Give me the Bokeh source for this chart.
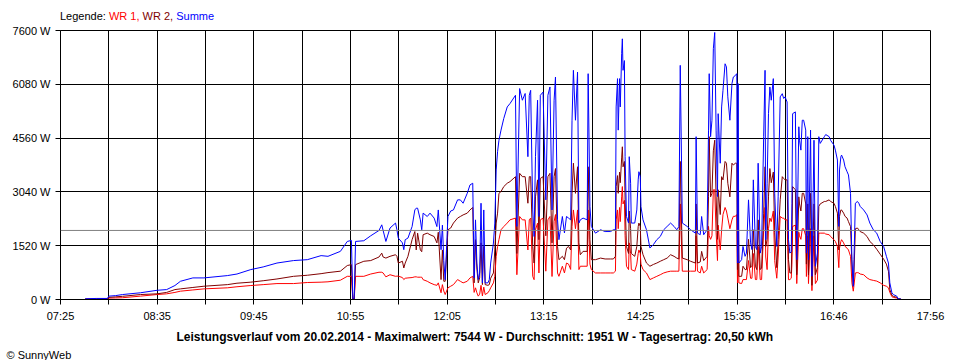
from bokeh.plotting import figure
from bokeh.models import FixedTicker, Span, ColumnDataSource, Title, Div
from bokeh.layouts import column
from bokeh.embed import file_html
from bokeh.resources import INLINE

# ---- data (time in minutes since midnight, power in W) ----
t_min = [
    462.5, 463, 471, 479, 480, 485, 490, 503, 515, 522,
    528, 532, 541, 549, 566, 573, 583, 592, 602, 614,
    624, 634, 639, 648, 653, 656, 657, 658, 659, 665,
    670, 676, 678, 679, 681, 684, 688, 689, 690, 693,
    694, 695, 697, 700, 702, 703, 704, 706, 707, 708,
    711, 713, 716, 718, 719, 721, 722, 723, 724, 726,
    728, 730, 733, 735, 737, 740, 742, 744, 745, 746,
    747, 748, 749, 750, 751, 752, 753, 755, 756, 757,
    759, 760, 761, 762, 763, 764.5, 766.5, 769, 771, 775,
    776, 778, 780, 782, 784, 785, 786, 787.5, 788.5, 789.5,
    791, 792, 793, 795, 797, 798.5, 800, 801.5, 803, 804,
    805.5, 806.5, 809, 810.5, 812, 813.5, 815, 816, 817, 818.5,
    820, 821, 822, 824, 827, 827.7, 829, 830, 833, 836.7,
    840, 844, 846, 847.5, 848, 849, 849.5, 850.5, 851, 852,
    852.5, 853, 854, 854.5, 855.5, 857, 857.5, 858.5, 859, 861.5,
    863, 864, 864.5, 865.5, 866, 867.5, 870, 872.5, 875, 877.5,
    880, 882.5, 885, 887.5, 890, 892, 893.5, 894.5, 896, 899.5,
    902, 905.5, 906, 907, 909, 910, 911.5, 914, 915, 915.5,
    916.5, 917.5, 918.5, 919.5, 920.5, 921.5, 922, 923.5, 924.5, 925.5,
    927, 928, 929, 930.5, 932, 933, 934.5, 935.5, 936, 936.5,
    937, 939, 940, 941.5, 942.5, 944, 945.5, 946.5, 947.5, 949,
    950, 951, 952.5, 953.5, 955, 956, 956.5, 957.5, 958.5, 959.5,
    960.5, 962, 963, 964.5, 965.5, 967, 968.5, 969.5, 970.5, 972,
    973, 974, 975, 975.5, 976, 978, 979, 980.5, 981, 982,
    983, 984, 985.5, 986, 987, 987.5, 989, 990, 991.5, 992.5,
    994, 995, 996, 999, 1000, 1002.5, 1003.5, 1006, 1007, 1008.5,
    1009.5, 1010, 1011, 1011.5, 1013, 1014, 1015.5, 1016.5, 1018, 1019,
    1020, 1020.5, 1021.5, 1023, 1024, 1025, 1027.5, 1030, 1032, 1034.5,
    1037, 1039.5, 1042, 1044, 1045.5, 1046.5, 1048, 1049, 1051.5, 1052.5,
    1054, 1055,
]
summe = [
    0, 20, 30, 30, 95, 110, 140, 190, 260, 280,
    395, 515, 610, 610, 675, 720, 845, 920, 1030, 1100,
    1125, 1240, 1220, 1360, 1640, 1670, 30, 30, 1640, 1660,
    1800, 1950, 2110, 1950, 1640, 2020, 2160, 1970, 1735, 1600,
    1407, 1690, 1735, 2060, 2530, 2580, 2580, 2250, 1970, 2440,
    2345, 2440, 2300, 2060, 2530, 1407, 2100, 1100, 560, 2345,
    2500, 2530, 2815, 2815, 2720, 3000, 3237, 3285, 610, 2250,
    1030, 563, 750, 2720, 470, 2530, 470, 470, 560, 1030,
    1595, 2160, 3660, 4175, 4500, 4785, 5115, 5440, 5535, 5770,
    2065, 5960, 5630, 5820, 4035, 5770, 5910, 2530, 1780, 4035,
    5630, 2345, 5770, 5860, 2815, 5770, 6005, 2530, 5630, 6285,
    2250, 1690, 2345, 1880, 2345, 2300, 2250, 5065, 6475, 5065,
    6425, 2160, 2250, 2300, 2250, 6380, 2625, 2065, 1875, 1970,
    1920, 1920, 1970, 1970, 5440, 6240, 4785, 6240, 5440, 6945,
    7365, 6475, 6750, 4035, 2345, 2160, 4035, 3285, 2160, 2160,
    2530, 3380, 3610, 3470, 2625, 2250, 1970, 1455, 1550, 1690,
    1780, 1970, 2065, 2160, 2065, 1970, 2060, 6615, 2160, 2065,
    1970, 1875, 4600, 1875, 1830, 2345, 1830, 1970, 4785, 6380,
    4600, 5065, 7085, 7544, 4785, 2910, 5250, 3850, 5440, 5910,
    6660, 6570, 5725, 5065, 6100, 6285, 6330, 6380, 1030, 6100,
    1030, 1125, 1500, 1220, 1310, 2815, 1600, 1410, 3380, 1500,
    1410, 3850, 1310, 1500, 4600, 6475, 1690, 3285, 5250, 6005,
    5630, 6240, 3000, 1500, 2900, 5725, 5815, 5680, 5725, 5580,
    1690, 1310, 1350, 2720, 5250, 5300, 1125, 4880, 4500, 4220,
    5065, 5065, 4785, 1310, 4600, 1125, 4785, 655, 4500, 940,
    1310, 4600, 4410, 4600, 4660, 4600, 4500, 4360, 4220, 3940,
    2065, 3660, 4035, 4080, 3940, 3750, 3610, 3520, 3000, 1125,
    375, 1125, 2720, 2770, 2720, 2630, 2530, 2390, 2160, 1970,
    1875, 1640, 1500, 1220, 1030, 470, 190, 140, 95, 20,
    20, 0,
]
wr2 = [
    0, 10, 15, 15, 60, 75, 90, 140, 160, 200,
    280, 300, 340, 375, 420, 460, 490, 530, 580, 655,
    685, 730, 760, 800, 960, 985, 15, 15, 985, 1080,
    1100, 1200, 1310, 1200, 1170, 1220, 1265, 1220, 1030, 1080,
    890, 1030, 1220, 1690, 1920, 1400, 1875, 1400, 1350, 1830,
    1875, 1830, 1780, 1600, 1900, 563, 1400, 515, 515, 1970,
    2020, 2160, 2300, 2345, 2390, 2440, 2530, 2600, 470, 1690,
    860, 470, 610, 1600, 420, 1500, 420, 400, 420, 600,
    750, 1400, 2160, 2440, 3000, 3050, 3190, 3285, 3330, 3470,
    1300, 3565, 3470, 3470, 2720, 3470, 3470, 1500, 1030, 2900,
    3380, 1690, 3420, 3470, 1800, 3470, 3565, 1600, 3470, 3700,
    1500, 1125, 1220, 1125, 1450, 1500, 1400, 3000, 3850, 3000,
    3750, 1600, 1265, 1360, 1360, 3750, 1690, 1125, 1125, 1170,
    1145, 1145, 1145, 1220, 3190, 3500, 3000, 3600, 3300, 4000,
    4315, 3750, 3900, 2815, 1500, 1300, 2500, 2000, 1300, 1220,
    1500, 2060, 2160, 2060, 1500, 1265, 1030, 940, 990, 1030,
    1080, 1125, 1170, 1265, 1220, 1170, 1145, 3900, 1170, 1125,
    1080, 1030, 2700, 1030, 1060, 1360, 1100, 1220, 2900, 4600,
    2900, 3000, 4200, 4500, 2900, 1700, 3100, 2400, 3470, 3380,
    3900, 3850, 3285, 2900, 3850, 3800, 3850, 3850, 845, 3600,
    655, 655, 940, 845, 845, 1700, 900, 940, 1970, 940,
    845, 2250, 845, 890, 2440, 3750, 1500, 1690, 2900, 3700,
    3300, 3600, 1900, 900, 1700, 2815, 3470, 3420, 3380, 3380,
    1125, 750, 750, 1600, 3190, 3100, 700, 2900, 2700, 2500,
    3000, 3000, 2700, 1000, 2700, 700, 3000, 400, 2700, 700,
    900, 2630, 2700, 2770, 2770, 2815, 2770, 2720, 2630, 2440,
    1400, 2350, 2530, 2530, 2440, 2350, 2300, 2200, 2060, 1000,
    375, 750, 2000, 2020, 1970, 1920, 1875, 1780, 1640, 1548,
    1420, 1280, 1140, 1000, 800, 280, 120, 90, 60, 15,
    15, 0,
]
wr1 = [
    0, 10, 15, 15, 40, 45, 50, 95, 140, 160,
    200, 235, 270, 300, 330, 360, 395, 420, 450, 450,
    480, 490, 500, 545, 655, 655, 0, 0, 655, 655,
    720, 770, 770, 750, 640, 700, 655, 660, 660, 620,
    563, 600, 610, 620, 640, 640, 630, 630, 630, 560,
    515, 470, 420, 400, 470, 190, 420, 240, 140, 330,
    375, 420, 563, 515, 470, 515, 610, 655, 200, 330,
    190, 95, 150, 400, 100, 350, 140, 190, 250, 330,
    470, 655, 1220, 1500, 1690, 1970, 2060, 2160, 2250, 2300,
    700, 2345, 2250, 2250, 1400, 2250, 2300, 655, 560, 1970,
    2160, 750, 2250, 2300, 800, 2250, 2345, 650, 2200, 2400,
    750, 655, 940, 750, 1030, 1000, 850, 2065, 2530, 2000,
    2530, 845, 940, 940, 940, 2530, 1000, 845, 750, 750,
    750, 750, 750, 800, 2250, 2530, 2000, 2600, 2200, 2900,
    3190, 2700, 2800, 1800, 940, 845, 1600, 1300, 845, 800,
    1000, 1300, 1400, 1300, 1000, 845, 750, 563, 610, 655,
    700, 750, 780, 800, 800, 800, 800, 2700, 800, 800,
    800, 800, 1800, 800, 750, 940, 750, 845, 2065, 1800,
    1700, 1800, 3100, 3100, 1900, 1100, 2100, 1400, 1970, 2400,
    2600, 2500, 2300, 2000, 2250, 2350, 2350, 2400, 470, 2400,
    470, 450, 563, 563, 563, 1100, 600, 600, 1300, 563,
    563, 1500, 563, 563, 1970, 2600, 1200, 845, 2000, 2300,
    2200, 2500, 1100, 600, 1200, 2345, 2300, 2300, 2250, 2250,
    560, 563, 600, 1000, 2065, 2100, 450, 1900, 1800, 1700,
    2000, 2000, 1800, 650, 1800, 450, 2000, 250, 1800, 450,
    550, 1875, 1875, 1875, 1850, 1830, 1780, 1690, 1640, 1500,
    900, 1450, 1640, 1690, 1600, 1500, 1450, 1400, 1220, 470,
    235, 400, 750, 760, 750, 720, 700, 610, 563, 540,
    520, 470, 400, 375, 330, 200, 80, 60, 40, 10,
    10, 0,
]

y_ticks = [0, 1520, 3040, 4560, 6080, 7600]
x_tick_labels = ["07:25", "08:35", "09:45", "10:55", "12:05",
                 "13:15", "14:25", "15:35", "16:46", "17:56"]
day_start, day_end = 445, 1076      # 07:25 .. 17:56
average_w = 1951
legend_parts = [("Legende:", "black"), ("WR 1,", "#FF0000"),
                ("WR 2,", "#800000"), ("Summe", "#0000FF")]
footer = ("Leistungsverlauf vom 20.02.2014 - Maximalwert: 7544 W - "
          "Durchschnitt: 1951 W - Tagesertrag: 20,50 kWh")
copyright_text = "\u00a9 SunnyWeb"

FONT = "Liberation Sans"

# ---- legend line above the chart (coloured words) ----
spans = " ".join(f'<span style="color:{c}">{t}</span>' for t, c in legend_parts)
legend_div = Div(
    text=(f'<div style="padding:10px 0 0 60px; font-family:\'{FONT}\'; '
          f'font-size:11px; line-height:13px; white-space:nowrap;">{spans}</div>'),
    width=960, height=22, margin=0)

p = figure(width=960, height=338, output_backend="svg", toolbar_location=None,
           x_range=(day_start, day_end), y_range=(0, 7600),
           min_border_left=60, min_border_right=30,
           min_border_top=8, min_border_bottom=60)
p.background_fill_color = "white"
p.border_fill_color = "white"
p.outline_line_color = "black"

n_int = 2 * (len(x_tick_labels) - 1)
x_ticks = [day_start + k * (day_end - day_start) / n_int for k in range(n_int + 1)]
x_over = {}
for k, tk in enumerate(x_ticks):
    x_over[tk] = x_tick_labels[k // 2] if k % 2 == 0 else ""

p.xaxis.ticker = FixedTicker(ticks=x_ticks)
p.xaxis.major_label_overrides = x_over
p.yaxis.ticker = FixedTicker(ticks=y_ticks)
p.yaxis.major_label_overrides = {v: f"{v} W" for v in y_ticks}
p.xgrid.ticker = FixedTicker(ticks=x_ticks)
p.ygrid.ticker = FixedTicker(ticks=y_ticks)
for g in (p.xgrid, p.ygrid):
    g.grid_line_color = "black"
    g.grid_line_alpha = 1.0
    g.grid_line_width = 1

for ax in (p.xaxis[0], p.yaxis[0]):
    ax.axis_line_color = "black"
    ax.major_tick_line_color = "black"
    ax.minor_tick_line_color = None
    ax.major_tick_in = 0
    ax.major_tick_out = 5
    ax.major_label_text_font = FONT
    ax.major_label_text_font_size = "11px"
    ax.major_label_text_color = "black"
    ax.major_label_standoff = 5

src = ColumnDataSource(dict(t=t_min, s=summe, w2=wr2, w1=wr1))
p.line("t", "w1", source=src, line_color="#FF0000", line_width=1)
p.line("t", "w2", source=src, line_color="#800000", line_width=1)
p.line("t", "s", source=src, line_color="#0000FF", line_width=1)

p.add_layout(Span(location=average_w, dimension="width",
                  line_color="#808080", line_width=1))

# footer and copyright as titles below the x axis
p.add_layout(Title(text=footer, align="left", offset=116, standoff=6,
                   text_font=FONT, text_font_size="12px",
                   text_line_height=0.75,
                   text_font_style="bold", text_color="black"), "below")
p.add_layout(Title(text=copyright_text, align="left", offset=-54, standoff=0,
                   text_font=FONT, text_font_size="11px",
                   text_font_style="normal", text_color="black"), "below")

layout = column(legend_div, p, spacing=0)

open("out.html", "w").write(file_html(layout, INLINE))
